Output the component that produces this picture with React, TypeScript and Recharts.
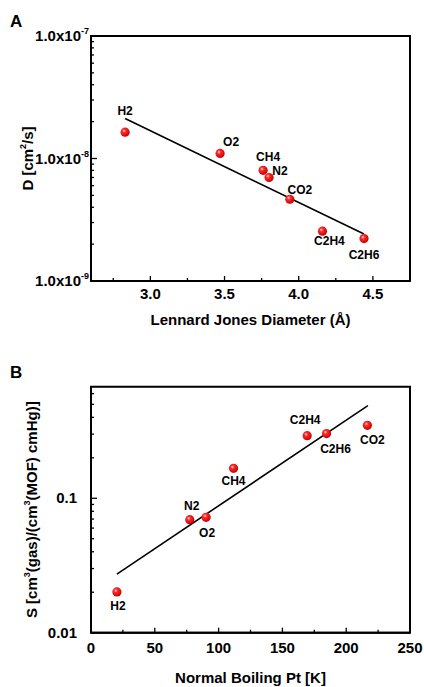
import React from 'react';
import { ScatterChart, Scatter, XAxis, YAxis, Label, ReferenceArea } from 'recharts';

const FONT = '"Liberation Sans", Arial, Helvetica, sans-serif';

// ---------- Panel A data ----------
const gasesA = ['H2', 'O2', 'CH4', 'N2', 'CO2', 'C2H4', 'C2H6'];
const ljDiameter = [2.83, 3.47, 3.76, 3.8, 3.94, 4.16, 4.44];
const diffusivity = [1.64e-8, 1.1e-8, 8.0e-9, 7.0e-9, 4.65e-9, 2.55e-9, 2.22e-9];
const fitAx = [2.83, 4.44];
const fitAy = [2.12e-8, 2.42e-9];
const xMajorA = [3.0, 3.5, 4.0, 4.5];
const xMinorA = [2.75, 3.25, 3.75, 4.25];
const yMajorA = [1e-9, 1e-8, 1e-7];
const yMinorA = [2e-9, 3e-9, 4e-9, 5e-9, 6e-9, 7e-9, 8e-9, 9e-9, 2e-8, 3e-8, 4e-8, 5e-8, 6e-8, 7e-8, 8e-8, 9e-8];

// ---------- Panel B data ----------
const gasesB = ['H2', 'N2', 'O2', 'CH4', 'C2H4', 'C2H6', 'CO2'];
const boilingPt = [20.3, 77.4, 90.2, 111.7, 169.4, 184.6, 216.6];
const solubility = [0.0201, 0.0693, 0.0722, 0.167, 0.292, 0.303, 0.349];
const fitBx = [20.3, 217];
const fitBy = [0.0273, 0.489];
const xMajorB = [0, 50, 100, 150, 200, 250];
const xMinorB = [25, 75, 125, 175, 225];
const yMajorB = [0.01, 0.1];
const yMinorB = [0.02, 0.03, 0.04, 0.05, 0.06, 0.07, 0.08, 0.09, 0.2, 0.3, 0.4, 0.5, 0.6];

// label placement (style): [dx, dy] of label centre from the point
const labelOffsetA: Record<string, [number, number]> = {
  H2: [0, -21], O2: [11, -12], CH4: [5, -14], N2: [11, -7], CO2: [10, -10], C2H4: [7, 10], C2H6: [0, 16],
};
const labelOffsetB: Record<string, [number, number]> = {
  H2: [1, 14], N2: [2, -14], O2: [1, 15], CH4: [0, 12], C2H4: [-2, -16], C2H6: [9, 15], CO2: [5, 14],
};

const zip = (names: string[] | null, xs: number[], ys: number[]) =>
  xs.map((x, i) => ({ x, y: ys[i], name: names ? names[i] : '' }));

const dataA = zip(gasesA, ljDiameter, diffusivity);
const lineA = zip(null, fitAx, fitAy);
const dataB = zip(gasesB, boilingPt, solubility);
const lineB = zip(null, fitBx, fitBy);

const Ball = (offsets: Record<string, [number, number]>) => (props: any) => {
  const { cx, cy, payload } = props;
  const off = offsets[payload.name] || [0, 0];
  return (
    <g>
      <defs>
        <radialGradient id="ballGrad" cx="38%" cy="35%" r="65%">
          <stop offset="0%" stopColor="#ffe0e0" />
          <stop offset="30%" stopColor="#ff2a2a" />
          <stop offset="100%" stopColor="#c80000" />
        </radialGradient>
      </defs>
      <circle cx={cx} cy={cy} r={4.6} fill="url(#ballGrad)" />
      <text
        x={cx + off[0]}
        y={cy + off[1] + 4.3}
        textAnchor="middle"
        fontFamily={FONT}
        fontWeight="bold"
        fontSize={12}
        fill="#000"
      >
        {payload.name}
      </text>
    </g>
  );
};

const NoShape = () => <g />;

const TICK_FS = 15;

const makeXTick = (majors: number[], dy: number, fmt: (v: number) => string) => (props: any) => {
  const { x, y, payload } = props;
  const major = majors.includes(payload.value);
  return (
    <g>
      <line x1={x} x2={x} y1={y} y2={y - (major ? 5 : 3)} stroke="#000" strokeWidth={1.3} />
      {major && (
        <text x={x} y={y + dy} textAnchor="middle" fontFamily={FONT} fontWeight="bold" fontSize={TICK_FS} fill="#000">
          {fmt(payload.value)}
        </text>
      )}
    </g>
  );
};

const makeYTick = (majors: number[], gap: number, render: (v: number) => React.ReactNode) => (props: any) => {
  const { x, y, payload } = props;
  const major = majors.includes(payload.value);
  return (
    <g>
      <line x1={x} x2={x + (major ? 6 : 3)} y1={y} y2={y} stroke="#000" strokeWidth={1.3} />
      {major && (
        <text x={x - gap} y={y + 5} textAnchor="end" fontFamily={FONT} fontWeight="bold" fontSize={TICK_FS} fill="#000">
          {render(payload.value)}
        </text>
      )}
    </g>
  );
};

const expLabel = (v: number) => {
  const e = Math.round(Math.log10(v));
  return (
    <>
      <tspan>1.0x10</tspan>
      <tspan fontSize={9} dy={-7}>{String(e)}</tspan>
    </>
  );
};

const frame = { stroke: '#000', strokeWidth: 2 };

export default function App() {
  const domA: [number, number] = [2.6, 4.75];
  const domAy: [number, number] = [1e-9, 1e-7];
  const domB: [number, number] = [0, 250];
  const domBy: [number, number] = [0.01, 0.676];
  return (
    <div style={{ position: 'absolute', left: 0, top: 0, width: 424, height: 687, background: '#fff' }}>
      <div style={{ position: 'absolute', left: 0, top: 0 }}>
        <ScatterChart width={424} height={343} margin={{ top: 36, right: 14, bottom: 0, left: 0 }}>
          <XAxis
            dataKey="x"
            type="number"
            domain={domA}
            allowDataOverflow
            ticks={[...xMajorA, ...xMinorA].sort((a, b) => a - b)}
            interval={0}
            height={62}
            tickSize={0}
            tickMargin={0}
            tickLine={false}
            axisLine={frame}
            tick={makeXTick(xMajorA, 18, (v) => v.toFixed(1))}
          >
            <Label
              content={(p: any) => {
                const vb = p.viewBox;
                return (
                  <text x={vb.x + vb.width / 2} y={vb.y + 44} textAnchor="middle" fontFamily={FONT} fontWeight="bold" fontSize={15} fill="#000">
                    Lennard Jones Diameter (Å)
                  </text>
                );
              }}
            />
          </XAxis>
          <YAxis
            dataKey="y"
            type="number"
            scale="log"
            domain={domAy}
            allowDataOverflow
            ticks={[...yMajorA, ...yMinorA].sort((a, b) => a - b)}
            interval={0}
            width={91}
            tickSize={0}
            tickMargin={0}
            tickLine={false}
            axisLine={frame}
            tick={makeYTick(yMajorA, 2, expLabel)}
          >
            <Label
              content={(p: any) => {
                const vb = p.viewBox;
                const cy = vb.y + vb.height / 2;
                return (
                  <g>
                    <text x={10} y={27} fontFamily={FONT} fontWeight="bold" fontSize={17} fill="#000">A</text>
                    <text x={33} y={cy} transform={`rotate(-90 33 ${cy})`} textAnchor="middle" fontFamily={FONT} fontWeight="bold" fontSize={15} fill="#000">
                      <tspan>D [cm</tspan>
                      <tspan fontSize={9} dy={-7}>2</tspan>
                      <tspan dy={7}>/s]</tspan>
                    </text>
                  </g>
                );
              }}
            />
          </YAxis>
          <ReferenceArea x1={domA[0]} x2={domA[1]} y1={domAy[0]} y2={domAy[1]} fill="none" fillOpacity={0} stroke="#000" strokeWidth={2} ifOverflow="visible" />
          <Scatter data={lineA} line={{ stroke: '#000', strokeWidth: 1.6 }} shape={NoShape} isAnimationActive={false} legendType="none" />
          <Scatter data={dataA} shape={Ball(labelOffsetA)} isAnimationActive={false} />
        </ScatterChart>
      </div>
      <div style={{ position: 'absolute', left: 0, top: 343 }}>
        <ScatterChart width={424} height={344} margin={{ top: 43.7, right: 14, bottom: 0, left: 0 }}>
          <XAxis
            dataKey="x"
            type="number"
            domain={domB}
            allowDataOverflow
            ticks={[...xMajorB, ...xMinorB].sort((a, b) => a - b)}
            interval={0}
            height={54.3}
            tickSize={0}
            tickMargin={0}
            tickLine={false}
            axisLine={frame}
            tick={makeXTick(xMajorB, 20.3, (v) => String(v))}
          >
            <Label
              content={(p: any) => {
                const vb = p.viewBox;
                return (
                  <text x={vb.x + vb.width / 2} y={vb.y + 50.3} textAnchor="middle" fontFamily={FONT} fontWeight="bold" fontSize={15} fill="#000">
                    Normal Boiling Pt [K]
                  </text>
                );
              }}
            />
          </XAxis>
          <YAxis
            dataKey="y"
            type="number"
            scale="log"
            domain={domBy}
            allowDataOverflow
            ticks={[...yMajorB, ...yMinorB].sort((a, b) => a - b)}
            interval={0}
            width={91}
            tickSize={0}
            tickMargin={0}
            tickLine={false}
            axisLine={frame}
            tick={makeYTick(yMajorB, 14, (v) => String(v))}
          >
            <Label
              content={(p: any) => {
                const vb = p.viewBox;
                const cy = vb.y + vb.height / 2;
                return (
                  <g>
                    <text x={10} y={35} fontFamily={FONT} fontWeight="bold" fontSize={17} fill="#000">B</text>
                    <text x={37} y={cy} transform={`rotate(-90 37 ${cy})`} textAnchor="middle" fontFamily={FONT} fontWeight="bold" fontSize={15} fill="#000">
                      <tspan>S [cm</tspan>
                      <tspan fontSize={9} dy={-7}>3</tspan>
                      <tspan dy={7}>(gas)/(cm</tspan>
                      <tspan fontSize={9} dy={-7}>3</tspan>
                      <tspan dy={7}>(MOF) cmHg)]</tspan>
                    </text>
                  </g>
                );
              }}
            />
          </YAxis>
          <ReferenceArea x1={domB[0]} x2={domB[1]} y1={domBy[0]} y2={domBy[1]} fill="none" fillOpacity={0} stroke="#000" strokeWidth={2} ifOverflow="visible" />
          <Scatter data={lineB} line={{ stroke: '#000', strokeWidth: 1.6 }} shape={NoShape} isAnimationActive={false} legendType="none" />
          <Scatter data={dataB} shape={Ball(labelOffsetB)} isAnimationActive={false} />
        </ScatterChart>
      </div>
    </div>
  );
}
